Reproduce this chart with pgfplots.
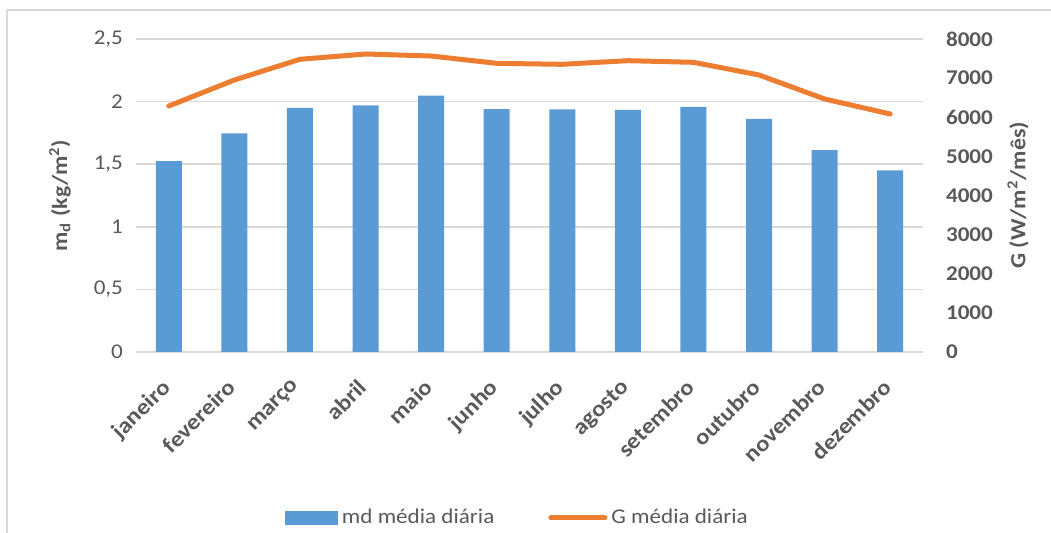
\documentclass[border=0pt]{standalone}
\usepackage{fontspec}
\setmainfont{Carlito}[FakeStretch=1.1]
\usepackage{pgfplots}
\pgfplotsset{compat=1.18}
\definecolor{barblue}{HTML}{5B9BD5}
\definecolor{lineorange}{HTML}{ED7D31}
\definecolor{txt}{HTML}{595959}
\definecolor{gridc}{HTML}{D9D9D9}
\begin{document}
\begin{tikzpicture}
\useasboundingbox (0,0) rectangle (525.5pt,266.5pt);
\draw[gridc, line width=0.7pt] (3.5pt,-5pt) -- (3.5pt,261.5pt) -- (540pt,261.5pt);
\begin{axis}[
  at={(68pt,90.5pt)}, anchor=south west,
  scale only axis, width=393.5pt, height=156.5pt,
  xmin=-0.5, xmax=11.5, ymin=0, ymax=2.5,
  ybar, bar width=13pt,
  axis line style={draw=none}, tick style={draw=none},
  ytick={0,0.5,1,1.5,2,2.5},
  ymajorgrids, grid style={gridc, line width=0.8pt},
  xtick={0,...,11},
  xticklabels={janeiro,fevereiro,março,abril,maio,junho,julho,agosto,setembro,outubro,novembro,dezembro},
  xticklabel style={rotate=45, anchor=north east, inner sep=0pt, yshift=-3pt, xshift=-9pt, font=\bfseries\fontsize{11.2}{12}\selectfont, text=txt},
  yticklabel style={text=txt, font=\fontsize{10.5}{12}\selectfont, xshift=-3pt},
  ylabel={m\textsubscript{d} (kg/m\textsuperscript{2})},
  ylabel style={font=\bfseries\fontsize{10.8}{12}\selectfont, text=txt, at={(axis description cs:-0.0966,0.5)}, anchor=center},
  /pgf/number format/use comma,
  /pgf/number format/assume math mode=true,
  /pgf/number format/1000 sep={},
]
\addplot[fill=barblue, draw=none] coordinates {
(0,1.525) (1,1.746) (2,1.949) (3,1.970) (4,2.047) (5,1.940)
(6,1.938) (7,1.933) (8,1.957) (9,1.861) (10,1.613) (11,1.451)};
\end{axis}
\begin{axis}[
  at={(68pt,90.5pt)}, anchor=south west,
  scale only axis, width=393.5pt, height=156.5pt,
  xmin=-0.5, xmax=11.5, ymin=0, ymax=8000,
  axis y line*=right, hide x axis,
  axis line style={draw=none}, tick style={draw=none},
  ytick={0,1000,...,8000},
  yticklabel style={text=txt, font=\bfseries\fontsize{10.5}{12}\selectfont, anchor=west, xshift=8pt},
  ylabel={G (W/m\textsuperscript{2}/mês)},
  ylabel style={font=\bfseries\fontsize{10.8}{12}\selectfont, text=txt, at={(axis description cs:1.1207,0.5)}, anchor=center},
  /pgf/number format/assume math mode=true,
  /pgf/number format/1000 sep={},
  legend style={at={(0.486,-0.53)}, anchor=center, draw=none, fill=none, legend columns=2,
    font=\fontsize{10.5}{12}\selectfont, text=txt, column sep=0pt, inner sep=0pt,
    /tikz/every even column/.append style={column sep=25pt}},
  legend cell align=left,
]
\addlegendimage{legend image code/.code={\fill[barblue] (-3pt,-3.25pt) rectangle (23pt,3.25pt);}}
\addlegendentry{md média diária}
\addplot[lineorange, line width=2.5pt, line cap=round, line join=round,
  legend image code/.code={\draw[lineorange, line width=2.5pt, line cap=round] (-3pt,0pt) -- (24pt,0pt);}] coordinates {
(0,6287) (1,6952) (2,7481) (3,7617) (4,7565) (5,7378)
(6,7353) (7,7446) (8,7404) (9,7080) (10,6466) (11,6083)};
\addlegendentry{G média diária}
\end{axis}
\end{tikzpicture}
\end{document}
